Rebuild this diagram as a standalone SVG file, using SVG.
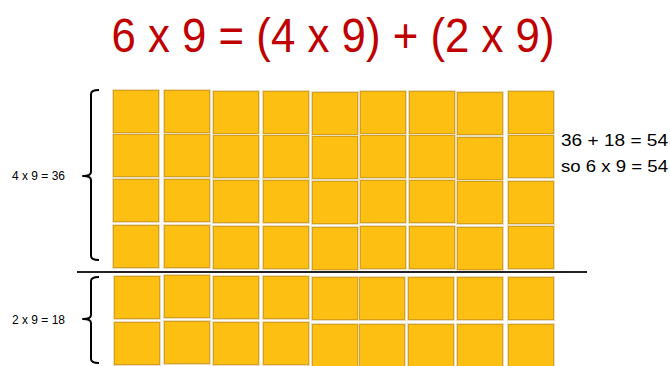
<svg xmlns="http://www.w3.org/2000/svg" width="670" height="366" viewBox="0 0 670 366">
<style>
.sq{fill:#FCBF12;stroke:#D6A01A;stroke-width:1}
.sqo{fill:none;stroke:#E8DDC0;stroke-width:1}
.brace{fill:none;stroke:#000;stroke-width:2;stroke-linejoin:round}
.lbl{font-family:"Liberation Sans",Arial,sans-serif;fill:#000}
.title{font-family:"Liberation Sans",Arial,sans-serif;fill:#C00000;font-size:49px}
</style>
<defs>
<g id="s"><rect class="sqo" x="-0.5" y="-0.5" width="47" height="44"/><rect class="sq" x="0.5" y="0.5" width="45" height="42"/></g>
</defs>
<rect width="670" height="366" fill="#fff"/>
<text class="title" x="333" y="52" text-anchor="middle" textLength="443" lengthAdjust="spacingAndGlyphs">6 x 9 = (4 x 9) + (2 x 9)</text>
<g id="top-block">
<use href="#s" x="113" y="90"/><use href="#s" x="113" y="134"/><use href="#s" x="113" y="179"/><use href="#s" x="113" y="225"/>
<use href="#s" x="164" y="90"/><use href="#s" x="164" y="134"/><use href="#s" x="164" y="179"/><use href="#s" x="164" y="225"/>
<use href="#s" x="213" y="91"/><use href="#s" x="213" y="135"/><use href="#s" x="213" y="180"/><use href="#s" x="213" y="226"/>
<use href="#s" x="263" y="91"/><use href="#s" x="263" y="135"/><use href="#s" x="263" y="180"/><use href="#s" x="263" y="226"/>
<use href="#s" x="312" y="92"/><use href="#s" x="312" y="136"/><use href="#s" x="312" y="181"/><use href="#s" x="312" y="227"/>
<use href="#s" x="360" y="91"/><use href="#s" x="360" y="135"/><use href="#s" x="360" y="180"/><use href="#s" x="360" y="226"/>
<use href="#s" x="409" y="91"/><use href="#s" x="409" y="135"/><use href="#s" x="409" y="180"/><use href="#s" x="409" y="226"/>
<use href="#s" x="457" y="92"/><use href="#s" x="457" y="137"/><use href="#s" x="457" y="181"/><use href="#s" x="457" y="227"/>
<use href="#s" x="508" y="91"/><use href="#s" x="508" y="135"/><use href="#s" x="508" y="181"/><use href="#s" x="508" y="226"/>
</g>
<g id="bottom-block">
<use href="#s" x="114" y="276"/><use href="#s" x="114" y="322"/>
<use href="#s" x="164" y="275"/><use href="#s" x="164" y="321"/>
<use href="#s" x="213" y="276"/><use href="#s" x="213" y="322"/>
<use href="#s" x="263" y="276"/><use href="#s" x="263" y="322"/>
<use href="#s" x="312" y="277"/><use href="#s" x="312" y="324"/>
<use href="#s" x="359" y="277"/><use href="#s" x="359" y="324"/>
<use href="#s" x="408" y="277"/><use href="#s" x="408" y="324"/>
<use href="#s" x="457" y="277"/><use href="#s" x="457" y="324"/>
<use href="#s" x="508" y="277"/><use href="#s" x="508" y="324"/>
</g>
<g id="divider"><line x1="77" y1="272" x2="587" y2="272" stroke="#222" stroke-width="2"/></g>
<g id="brace-top">
<path class="brace" d="M99,90 Q91,90 91,94 L91,172 Q91,176 83,176 Q91,176 91,180 L91,256 Q91,260 99,260"/>
<text class="lbl" x="12" y="180" font-size="12" textLength="53" lengthAdjust="spacingAndGlyphs">4 x 9 = 36</text>
</g>
<g id="brace-bottom">
<path class="brace" d="M99,277 Q91,277 91,281 L91,315 Q91,319 83,319 Q91,319 91,323 L91,359 Q91,363 99,363"/>
<text class="lbl" x="12" y="324" font-size="12" textLength="53" lengthAdjust="spacingAndGlyphs">2 x 9 = 18</text>
</g>
<g id="result">
<text class="lbl" x="561" y="146" font-size="17" textLength="107" lengthAdjust="spacingAndGlyphs">36 + 18 = 54</text>
<text class="lbl" x="561" y="172" font-size="17" textLength="107" lengthAdjust="spacingAndGlyphs">so 6 x 9 = 54</text>
</g>
</svg>
